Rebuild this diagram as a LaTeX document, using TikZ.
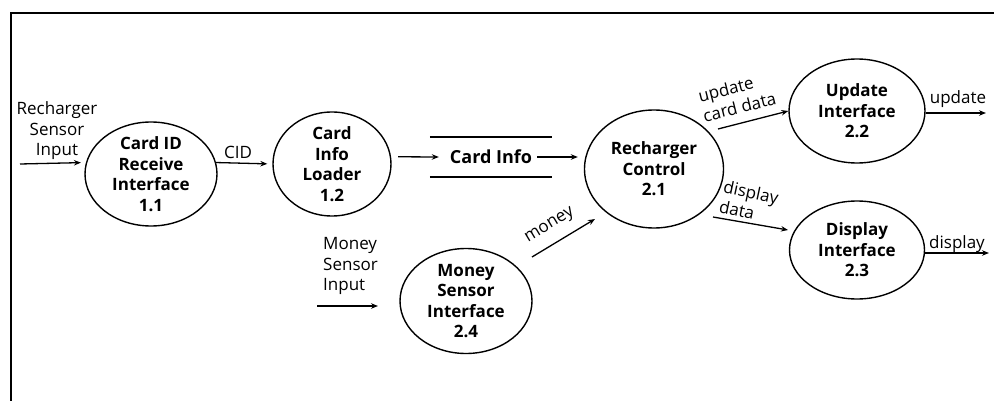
\documentclass[tikz,border=0pt]{standalone}
\usepackage{fontspec}
\setmainfont{Open Sans}
\usetikzlibrary{shapes.geometric,arrows.meta,calc}
\begin{document}
\begin{tikzpicture}[x=1pt,y=-1pt,
  proc/.style={draw,ellipse,line width=1.4pt,inner sep=0pt},
  ptext/.style={inner sep=0pt,align=center,font=\fontsize{17}{20.5}\selectfont\bfseries},
  lbl/.style={inner sep=0pt,font=\fontsize{17}{20.5}\selectfont},
  arr/.style={line width=1.3pt,-{Stealth[length=7pt,width=5.5pt]}},
  ]
\useasboundingbox (0,0) rectangle (994,401);
\draw[line width=2pt] (11,401) -- (11,13) -- (994,13);

% processes
\node[proc,minimum width=132pt,minimum height=104pt] (n11) at (151,174) {};
\node[ptext] (t11) at (n11) {Card ID\\Receive\\Interface\\1.1};
\node[proc,minimum width=118pt,minimum height=104pt] (n12) at (332,164) {};
\node[ptext] (t12) at (n12) {Card\\Info\\Loader\\1.2};
\node[proc,minimum width=139pt,minimum height=118pt] (n21) at (654,169) {};
\node[ptext] (t21) at (n21) {Recharger\\Control\\2.1};
\node[proc,minimum width=136pt,minimum height=104pt] (n22) at (857,111) {};
\node[ptext] (t22) at (n22) {Update\\Interface\\2.2};
\node[proc,minimum width=135pt,minimum height=98pt] (n23) at (857,250) {};
\node[ptext] (t23) at (n23) {Display\\Interface\\2.3};
\node[proc,minimum width=132pt,minimum height=105pt] (n24) at (466,301) {};
\node[ptext] (t24) at (n24) {Money\\Sensor\\Interface\\2.4};

% data store
\node[inner sep=0pt,minimum width=122pt,minimum height=40pt,font=\fontsize{18}{20}\selectfont\bfseries] (store) at (491,157) {Card Info};
\draw[line width=1.5pt] (store.north west) -- (store.north east) (store.south west) -- (store.south east);

% free ends
\coordinate (rsi) at (20,164);
\coordinate (msi) at (317,306);
\coordinate (msiE) at (378,306);
\coordinate (m1) at (532,257);
\coordinate (m2) at (595,219);
\coordinate (u1) at (718,129);
\coordinate (d1) at (713,217);
\coordinate (d2) at (788,230);
\coordinate (uo) at (986,113);
\coordinate (do) at (989,253);

% connectors
\draw[arr,shorten >=5pt] (rsi) -- (n11.170);
\draw[arr,shorten >=5pt] (n11.10) -- (n12.west);
\draw[arr,shorten <=7pt] (n12.7) -- ($(store.west)+(9,0)$);
\draw[arr,shorten >=6pt] ($(store.east)+(-15,0)$) -- (n21.west |- store.east);
\draw[arr] (msi) -- (msiE);
\draw[arr] (m1) -- (m2);
\draw[arr] (u1) -- (n22.west);
\draw[arr] (d1) -- (d2);
\draw[arr] (n22.east |- uo) -- (uo);
\draw[arr] (n23.east |- do) -- (do);

% labels
\node[lbl,align=center] (lrsi) at (57,131) {Recharger\\Sensor\\Input};
\node[lbl,align=left,anchor=west] (lmsi) at (323,266) {Money\\Sensor\\Input};
\node[lbl] (lcid) at (238,152) {CID};
\node[lbl,rotate=31] (lmoney) at (550,226) {money};
\node[lbl,align=left,rotate=14] (lucd) at (737,97) {update\\card data};
\node[lbl,align=left,rotate=-12] (ldd) at (749,202) {display\\data};
\node[lbl,anchor=base] (lup) at (958,104) {update};
\node[lbl,anchor=base] (ldisp) at (957,248) {display};
\end{tikzpicture}
\end{document}
